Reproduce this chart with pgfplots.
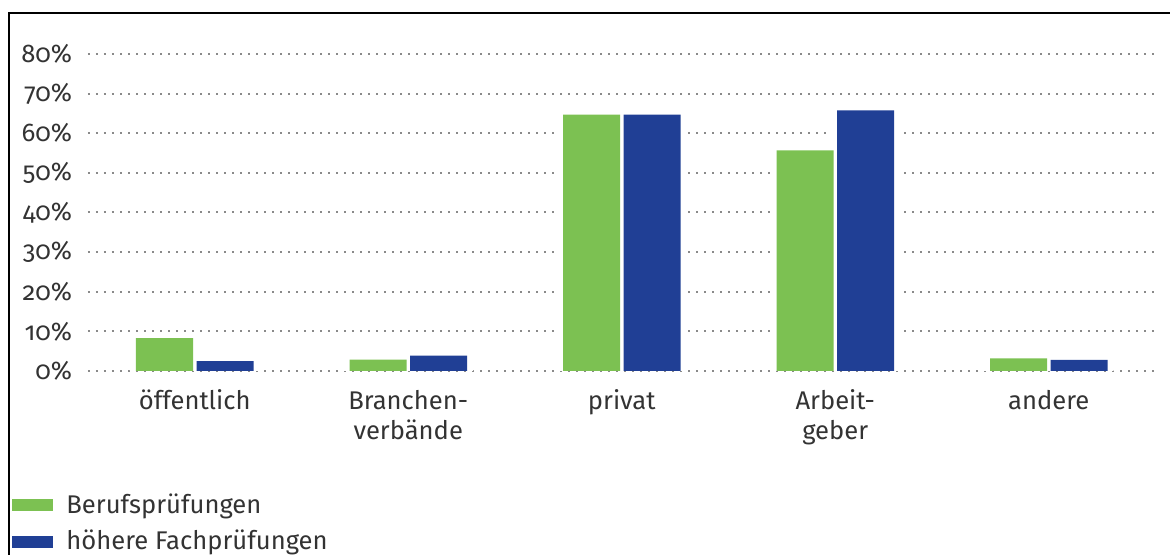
\documentclass[border=0pt]{standalone}
\usepackage{pgfplots}
\pgfplotsset{compat=1.18}
\usepackage{fontspec}
\setmainfont{Fira Sans}[Numbers=OldStyle]
\definecolor{bgreen}{HTML}{7CC152}
\definecolor{bblue}{HTML}{203F95}
\definecolor{txt}{HTML}{333333}
\definecolor{grd}{HTML}{8A8A8A}

\begin{document}
\fontsize{12.8}{15}\selectfont
\begin{tikzpicture}
\useasboundingbox (-44pt,-92pt) rectangle (541pt,185.5pt);
\begin{axis}[
  at={(0,0)}, anchor=south west,
  scale only axis, width=533.75pt, height=158.5pt,
  xmin=-0.5, xmax=4.5, ymin=0, ymax=80,
  ybar, bar width=28.5pt,
  xtick={0,1,2,3,4},
  xticklabels={öffentlich,{Branchen-\\verbände},privat,{Arbeit-\\geber},andere},
  ytick={0,10,...,80},
  yticklabel={\pgfmathprintnumber{\tick}\%},
  /pgf/number format/assume math mode=true,
  xticklabel style={align=center, text=txt, yshift=-5pt, font=\fontsize{12.8}{15}\selectfont},
  yticklabel style={text=txt, xshift=-3.5pt, font=\fontsize{12.8}{15}\selectfont},
  axis line style={draw=none},
  major tick length=0pt,
  ymajorgrids,
  major grid style={grd, line width=1pt, dash pattern=on 1pt off 3pt},
  legend style={at={(-0.0712,-0.38)}, anchor=north west, draw=none, fill=none,
    inner sep=0pt, row sep=4.4pt, column sep=5.5pt,
    nodes={inner sep=1pt, text=txt}, font=\fontsize{12.8}{15}\selectfont},
  legend cell align=left,
  legend image code/.code={\fill[#1] (0pt,-2.9pt) rectangle (20.5pt,3.1pt);},
]
% white underlays that break the dotted grid beside the bars
\addplot[fill=white, draw=none, bar width=34.5pt, bar shift=-15.125pt, forget plot]
  coordinates {(0,8.3) (1,2.9) (2,64.7) (3,55.7) (4,3.2)};
\addplot[fill=white, draw=none, bar width=34.5pt, bar shift=15.125pt, forget plot]
  coordinates {(0,2.5) (1,3.9) (2,64.7) (3,65.8) (4,2.8)};
\addplot[fill=bgreen, draw=none, bar shift=-15.125pt]
  coordinates {(0,8.3) (1,2.9) (2,64.7) (3,55.7) (4,3.2)};
\addplot[fill=bblue, draw=none, bar shift=15.125pt]
  coordinates {(0,2.5) (1,3.9) (2,64.7) (3,65.8) (4,2.8)};
\addlegendentry{Berufsprüfungen}
\addlegendentry{höhere Fachprüfungen}
\end{axis}
\draw[black, line width=1.2pt] (-39.5pt,-92pt) -- (-39.5pt,179pt) -- (541pt,179pt);
\end{tikzpicture}
\end{document}
